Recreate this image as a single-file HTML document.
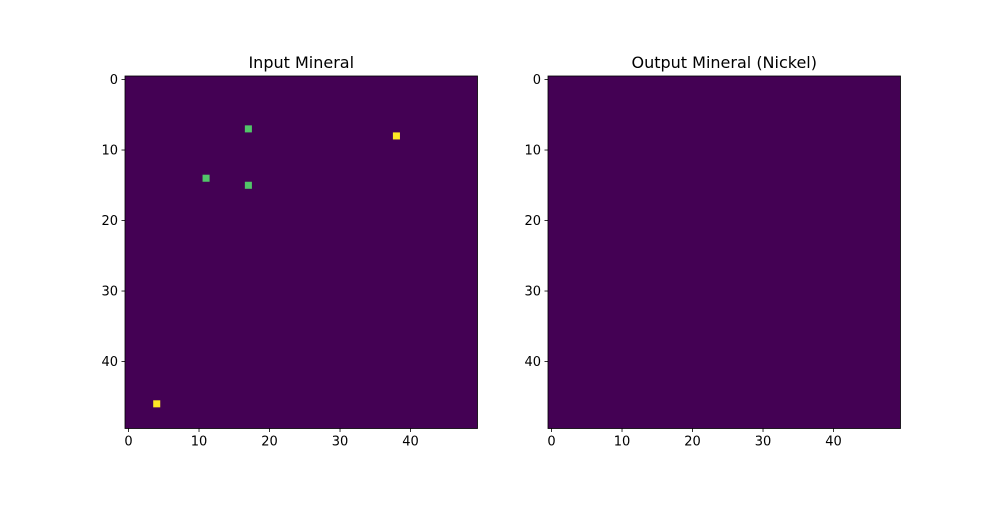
<!DOCTYPE html>
<html><head><meta charset="utf-8"><style>
body{margin:0;background:#fff;font-family:"Liberation Sans","DejaVu Sans",sans-serif}
</style></head><body>
<svg width="1000" height="500" xmlns="http://www.w3.org/2000/svg" font-family="DejaVu Sans, Liberation Sans, sans-serif">
<rect width="1000" height="500" fill="#fff"/>
<g id="charts"></g>
</svg>
<script>
const gridSize = 50;
const inputCols = [17, 38, 11, 17, 4];
const inputRows = [7, 8, 14, 15, 46];
const inputVals = [2, 3, 2, 2, 3];
const outputCols = [];
const outputRows = [];
const outputVals = [];
const tickLabels = [0, 10, 20, 30, 40];
const titles = ["Input Mineral", "Output Mineral (Nickel)"];

const NS = "http://www.w3.org/2000/svg";
const root = document.getElementById('charts');
const colors = {0:"#440154",2:"#52c569",3:"#fde725"};
function mk(t, a, p){const e=document.createElementNS(NS,t);for(const k in a)e.setAttribute(k,a[k]);p.appendChild(e);return e;}
const panels = [{x0:125, cols:inputCols, rows:inputRows, vals:inputVals},{x0:548, cols:outputCols, rows:outputRows, vals:outputVals}];
const y0 = 76, size = 352.5;
panels.forEach((p, i) => {
  const g = mk('g', {}, root);
  
  
  const s = size / gridSize;
  const X = c => p.x0 + c * s, Y = r => y0 + r * s;
  const bg = mk('rect', {x:p.x0, y:y0, width:size, height:size, fill:colors[0]}, g);
  
  
  p.cols.forEach((c, k) => {
    const r = mk('rect', {x:X(c), y:Y(p.rows[k]), width:s, height:s, fill:colors[p.vals[k]]}, g);
    
    
  });
  const fr = mk('rect', {x:p.x0, y:y0, width:size, height:size, fill:'none', stroke:'#000', 'stroke-width':0.8}, g);
  
  
  tickLabels.forEach(v => {
    const cx = X(v + 0.5), cy = Y(v + 0.5);
    mk('line', {x1:cx, x2:cx, y1:y0+size, y2:y0+size+3.5, stroke:'#000', 'stroke-width':0.8}, g);
    const tx = mk('text', {x:cx, y:y0+size+17, 'text-anchor':'middle', 'font-size':13}, g);
    tx.textContent = v;
    
    
    mk('line', {x1:p.x0-3.5, x2:p.x0, y1:cy, y2:cy, stroke:'#000', 'stroke-width':0.8}, g);
    const ty = mk('text', {x:p.x0-7, y:cy+4.5, 'text-anchor':'end', 'font-size':13}, g);
    ty.textContent = v;
    
    
  });
  const t = mk('text', {x:p.x0+size/2, y:y0-8, 'text-anchor':'middle', 'font-size':16}, g);
  t.textContent = titles[i];
  
  
});
</script>
</body></html>
